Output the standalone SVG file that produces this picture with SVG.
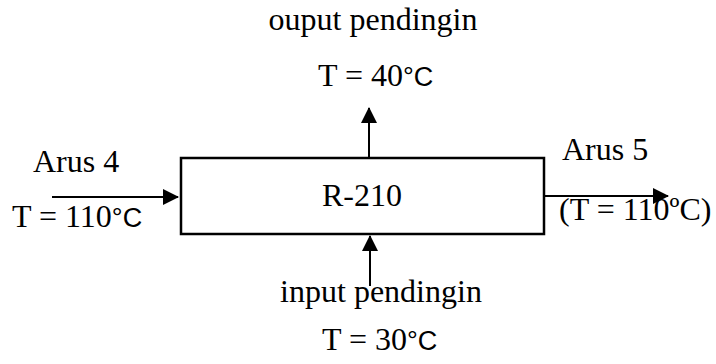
<svg xmlns="http://www.w3.org/2000/svg" width="716" height="364" viewBox="0 0 716 364">
<style>
text{font-family:"Liberation Serif","Times New Roman",serif;font-size:32px;fill:#000}
.s{font-family:"Liberation Sans",Arial,sans-serif;font-size:27px}
.c{stroke:#000;stroke-width:2;fill:none}
</style>
<defs>
<marker id="ah" markerWidth="16" markerHeight="16" refX="15" refY="8" orient="auto" markerUnits="userSpaceOnUse" viewBox="0 0 16 16">
<path d="M0,0 L16,8 L0,16 z" fill="#000"/>
</marker>
</defs>
<g id="reactor">
<rect x="181" y="158" width="363" height="76" fill="#fff" stroke="#000" stroke-width="2.5"/>
<text x="362" y="206" text-anchor="middle">R-210</text>
</g>
<g id="connectors">
<line class="c" x1="52" y1="197" x2="178" y2="197" marker-end="url(#ah)"/>
<line class="c" x1="544" y1="196" x2="668" y2="196" marker-end="url(#ah)"/>
<line class="c" x1="369" y1="158" x2="369" y2="108" marker-end="url(#ah)"/>
<line class="c" x1="370" y1="286" x2="370" y2="236" marker-end="url(#ah)"/>
</g>
<g id="arus4">
<text x="33" y="172">Arus 4</text>
<text x="12" y="227">T = 110<tspan class="s">°C</tspan></text>
</g>
<g id="arus5">
<text x="562" y="160">Arus 5</text>
<text x="559" y="220">(T = 110ºC)</text>
</g>
<g id="output">
<text x="373" y="30" text-anchor="middle">ouput pendingin</text>
<text x="318" y="86">T = 40<tspan class="s">°C</tspan></text>
</g>
<g id="input">
<text x="381" y="302" text-anchor="middle">input pendingin</text>
<text x="322" y="350">T = 30<tspan class="s">°C</tspan></text>
</g>
</svg>
